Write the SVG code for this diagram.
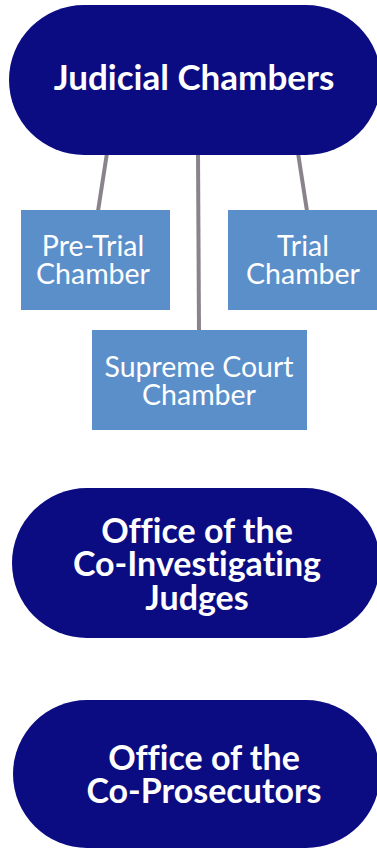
<svg xmlns="http://www.w3.org/2000/svg" width="377" height="850" viewBox="0 0 377 850">
  <style>
    .pill { fill: #0c0c82; }
    .box { fill: #5b8fca; }
    text { font-variant-ligatures: none; }
    .pill-text { font-family: Lato, "Liberation Sans", sans-serif; font-weight: 700; fill: #ffffff; text-anchor: middle; }
    .box-text { font-family: Lato, "Liberation Sans", sans-serif; font-weight: 400; font-size: 28.5px; fill: #ffffff; text-anchor: middle; }
    .link { stroke: #8a828c; stroke-width: 4; fill: none; stroke-linecap: butt; }
  </style>
  <rect width="377" height="850" fill="#ffffff"/>

  <!-- connectors from the chambers pill down to each chamber -->
  <g id="connectors">
    <line class="link" x1="107" y1="153" x2="98" y2="211"/>
    <line class="link" x1="198" y1="153" x2="199" y2="331"/>
    <line class="link" x1="298" y1="153" x2="307" y2="211"/>
  </g>

  <g id="judicial-chambers">
    <rect class="pill" x="9" y="5" width="372" height="150" rx="75" ry="75"/>
    <text class="pill-text" x="194" y="90" font-size="35">Judicial Chambers</text>
  </g>

  <g id="pre-trial-chamber">
    <rect class="box" x="21" y="210" width="149" height="100"/>
    <text class="box-text" x="93" y="255.5">Pre-Trial</text>
    <text class="box-text" x="93" y="283.5">Chamber</text>
  </g>

  <g id="trial-chamber">
    <rect class="box" x="228" y="210" width="149" height="100"/>
    <text class="box-text" x="303" y="255.5">Trial</text>
    <text class="box-text" x="303" y="283.5">Chamber</text>
  </g>

  <g id="supreme-court-chamber">
    <rect class="box" x="92" y="330" width="215" height="100"/>
    <text class="box-text" x="199" y="376.5">Supreme Court</text>
    <text class="box-text" x="199" y="404.5">Chamber</text>
  </g>

  <g id="co-investigating-judges">
    <rect class="pill" x="12" y="488" width="368" height="150" rx="75" ry="75"/>
    <text class="pill-text" x="197" y="542.5" font-size="34">Office of the</text>
    <text class="pill-text" x="197" y="576" font-size="34">Co-Investigating</text>
    <text class="pill-text" x="197" y="609.5" font-size="34">Judges</text>
  </g>

  <g id="co-prosecutors">
    <rect class="pill" x="13" y="700" width="367" height="148" rx="74" ry="74"/>
    <text class="pill-text" x="204" y="769.5" font-size="34">Office of the</text>
    <text class="pill-text" x="204" y="803" font-size="34">Co-Prosecutors</text>
  </g>
</svg>
